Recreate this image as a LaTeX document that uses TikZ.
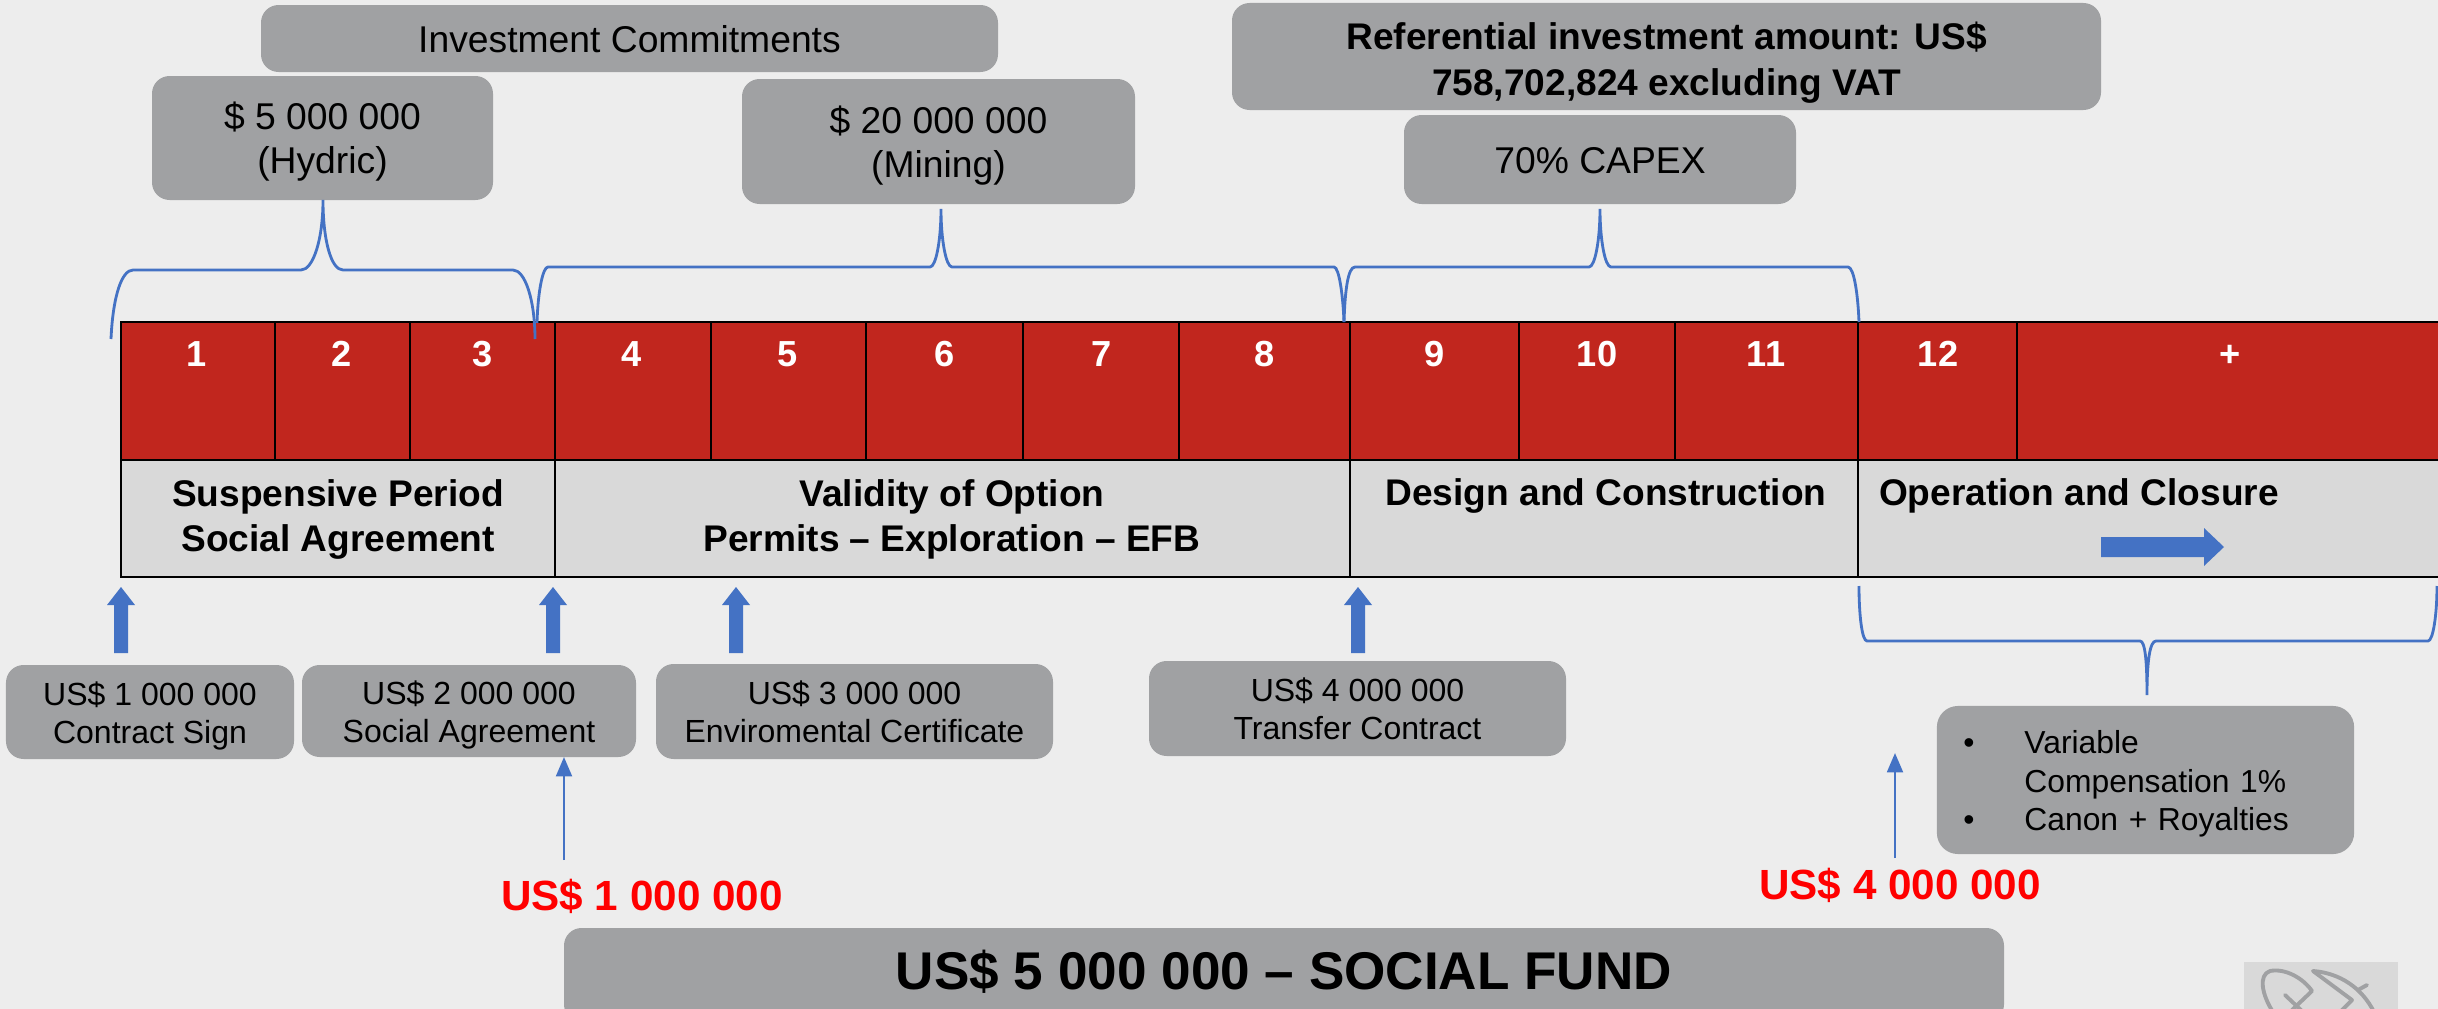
\documentclass[tikz,border=0pt]{standalone}
\usepackage{fontspec}
\setmainfont{Liberation Sans}
\usetikzlibrary{arrows.meta}
\definecolor{bgc}{HTML}{EDEDED}
\definecolor{redc}{HTML}{C1261E}
\definecolor{greyc}{HTML}{A0A1A3}
\definecolor{rowc}{HTML}{D9D9D9}
\definecolor{bluec}{HTML}{4472C4}
\tikzset{
 gbox/.style={fill=greyc,rounded corners=5pt,inner sep=0pt},
 gtext/.style={inner sep=0pt,align=center,text=black},
 cell/.style={fill=redc,draw=black,line width=0.8pt,inner sep=0pt},
 rowcell/.style={fill=rowc,draw=black,line width=0.8pt,inner sep=0pt},
 num/.style={text=white,font=\fontsize{10.3}{12}\selectfont\bfseries,inner sep=0pt},
 rowtext/.style={font=\fontsize{10.55}{12.8}\selectfont\bfseries,align=center,inner sep=0pt},
 bigt/.style={font=\fontsize{10.6}{12.5}\selectfont},
 smallt/.style={font=\fontsize{9.1}{10.9}\selectfont},
 redt/.style={text=red,font=\fontsize{12}{14}\selectfont\bfseries,inner sep=0pt},
 brace/.style={draw=bluec,line width=0.8pt},
 blockarrow/.style={fill=bluec,draw=none},
 thin/.style={draw=bluec,line width=0.7pt,-{Triangle[length=5.5pt,width=4.5pt]}},
 logoline/.style={draw=greyc,line width=1.1pt,line cap=round,line join=round},
}
% [text style]{name}{x1}{y1}{x2}{y2}{text dy}{text}
\newcommand{\gb}[7][]{\node[gbox,minimum width={(#5-#3)*0.01cm},minimum height={(#6-#4)*0.01cm}] (#2) at ({(#3+#5)/2},{(#4+#6)/2}) {};
 \node[gtext,#1] (#2t) at ({(#3+#5)/2},{(#4+#6)/2+#7}) {\gbtext};}
\newcommand{\cl}[4]{\node[#2,minimum width={(#4-#3)*0.01cm},minimum height={(\rowb-\rowa)*0.01cm}] (#1) at ({(#3+#4)/2},{(\rowa+\rowb)/2}) {};}
\newcommand{\uparr}[1]{\fill[blockarrow] (#1-7,653)--(#1-7,605)--(#1-14,605)--(#1,587)--(#1+14,605)--(#1+7,605)--(#1+7,653)--cycle;}
\begin{document}
\begin{tikzpicture}[x=0.01cm,y=-0.01cm]
\useasboundingbox (0,0) rectangle (2438,1009);
\clip (0,0) rectangle (2438,1009);
\fill[bgc] (0,0) rectangle (2438,1009);

% top boxes
\def\gbtext{Investment Commitments}
\gb[font=\fontsize{10.6}{13}\selectfont]{inv}{261}{5}{998}{72}{1}
\def\gbtext{\$ 5 000 000\\(Hydric)}
\gb[bigt]{hyd}{152}{76}{493}{200}{4}
\def\gbtext{\$ 20 000 000\\(Mining)}
\gb[bigt]{min}{742}{79}{1135}{204}{4}
\def\gbtext{Referential investment amount: US\$\\758,702,824 excluding VAT}
\gb[font=\fontsize{10.55}{12.9}\selectfont\bfseries]{ref}{1232}{3}{2101}{110}{6}
\def\gbtext{70\% CAPEX}
\gb[bigt]{capex}{1404}{115}{1796}{204}{1}

% red row
\def\rowa{322}\def\rowb{460}
\cl{c1}{cell}{121}{275}
\cl{c2}{cell}{275}{410}
\cl{c3}{cell}{410}{555}
\cl{c4}{cell}{555}{711}
\cl{c5}{cell}{711}{866}
\cl{c6}{cell}{866}{1023}
\cl{c7}{cell}{1023}{1179}
\cl{c8}{cell}{1179}{1350}
\cl{c9}{cell}{1350}{1519}
\cl{c10}{cell}{1519}{1675}
\cl{c11}{cell}{1675}{1858}
\cl{c12}{cell}{1858}{2017}
\cl{c13}{cell}{2017}{2450}
\foreach \n/\x/\t in {n1/197/1,n2/342/2,n3/483/3,n4/632/4,n5/788/5,n6/945/6,n7/1102/7,n8/1265/8,n9/1435/9,n10/1597/10,n11/1766/11,n12/1938/12}
  \node[num] (\n) at (\x,354) {\t};
\node[num] (n13) at (2230,356) {+};

% grey row
\def\rowa{460}\def\rowb{577}
\cl{r1}{rowcell}{121}{555}
\cl{r2}{rowcell}{555}{1350}
\cl{r3}{rowcell}{1350}{1858}
\cl{r4}{rowcell}{1858}{2450}
\node[rowtext] (t1) at (338,519) {Suspensive Period\\Social Agreement};
\node[rowtext] (t2) at (952,519) {Validity of Option\\Permits – Exploration – EFB};
\node[rowtext] (t3) at (1606,496) {Design and Construction};
\node[rowtext] (t4) at (2079,496) {Operation and Closure};
\fill[blockarrow] (2101,537)--(2204,537)--(2204,528)--(2224,547)--(2204,566)--(2204,557)--(2101,557)--cycle;

% braces
\coordinate (b1l) at (111,339); \coordinate (b1t) at (323,200); \coordinate (b1r) at (535,339);
\draw[brace] (b1l) .. controls (113,295) and (122,270) .. (133,270) -- (301,270) .. controls (313,270) and (323,240) .. (b1t) .. controls (323,240) and (331,270) .. (343,270) -- (513,270) .. controls (525,270) and (535,300) .. (b1r);
\coordinate (b2l) at (537,323); \coordinate (b2t) at (941,209); \coordinate (b2r) at (1344,322);
\draw[brace] (b2l) .. controls (538,290) and (543,267) .. (548,267) -- (930,267) .. controls (936,267) and (941,240) .. (b2t) .. controls (941,240) and (946,267) .. (952,267) -- (1334,267) .. controls (1339,267) and (1343,295) .. (b2r);
\coordinate (b3l) at (1344,322); \coordinate (b3t) at (1600,209); \coordinate (b3r) at (1859,322);
\draw[brace] (b3l) .. controls (1345,290) and (1348,267) .. (1355,267) -- (1589,267) .. controls (1595,267) and (1600,240) .. (b3t) .. controls (1600,240) and (1605,267) .. (1611,267) -- (1848,267) .. controls (1854,267) and (1858,295) .. (b3r);
\coordinate (b4l) at (1859,586); \coordinate (b4t) at (2147,695); \coordinate (b4r) at (2437,586);
\draw[brace] (b4l) .. controls (1859,615) and (1862,641) .. (1867,641) -- (2140,641) .. controls (2145,641) and (2147,660) .. (b4t) .. controls (2147,660) and (2150,641) .. (2156,641) -- (2428,641) .. controls (2433,641) and (2437,615) .. (b4r);

% block arrows
\uparr{121} \uparr{553} \uparr{736} \uparr{1358}

% lower boxes
\def\gbtext{US\$ 1 000 000\\Contract Sign}
\gb[smallt]{p1}{6}{665}{294}{759}{4}
\def\gbtext{US\$ 2 000 000\\Social Agreement}
\gb[smallt]{p2}{302}{665}{636}{757}{4}
\def\gbtext{US\$ 3 000 000\\Enviromental Certificate}
\gb[smallt]{p3}{656}{664}{1053}{759}{0}
\def\gbtext{US\$ 4 000 000\\Transfer Contract}
\gb[smallt]{p4}{1149}{661}{1566}{756}{0}
\node[gbox,rounded corners=6pt,minimum width=4.17cm,minimum height=1.48cm] (var) at (2145.5,780) {};
\node[gtext,font=\fontsize{9.05}{10.95}\selectfont,align=left,text width=3.61cm] (vart) at (2144,784) {\makebox[0.61cm][l]{•}Variable\\\hspace*{0.61cm}Compensation 1\%\\\makebox[0.61cm][l]{•}Canon + Royalties};

% red amounts
\node[redt] (a1) at (642,896) {US\$ 1 000 000};
\node[redt] (a2) at (1900,885) {US\$ 4 000 000};
\coordinate (a1s) at (564,860); \coordinate (a1e) at (564,757);
\coordinate (a2s) at (1895,858); \coordinate (a2e) at (1895,753);
\draw[thin] (a1s) -- (a1e);
\draw[thin] (a2s) -- (a2e);

% social fund
\def\gbtext{US\$ 5 000 000 – SOCIAL FUND}
\gb[font=\fontsize{15.1}{18}\selectfont\bfseries]{fund}{564}{928}{2004}{1022}{-3}

% logo
\fill[rowc] (2244,962) rectangle (2398,1009);
\draw[logoline] (2273,1012) .. controls (2262,995) and (2258,975) .. (2270,971) .. controls (2285,968) and (2303,978) .. (2312,991) -- (2292,1010);
\draw[logoline] (2285,995) -- (2303,1012);
\draw[logoline] (2313,971) -- (2352,1000) -- (2340,1012);
\draw[logoline] (2313,971) .. controls (2340,973) and (2362,988) .. (2374,1012);
\draw[logoline] (2367,985) -- (2358,990);
\end{tikzpicture}
\end{document}
